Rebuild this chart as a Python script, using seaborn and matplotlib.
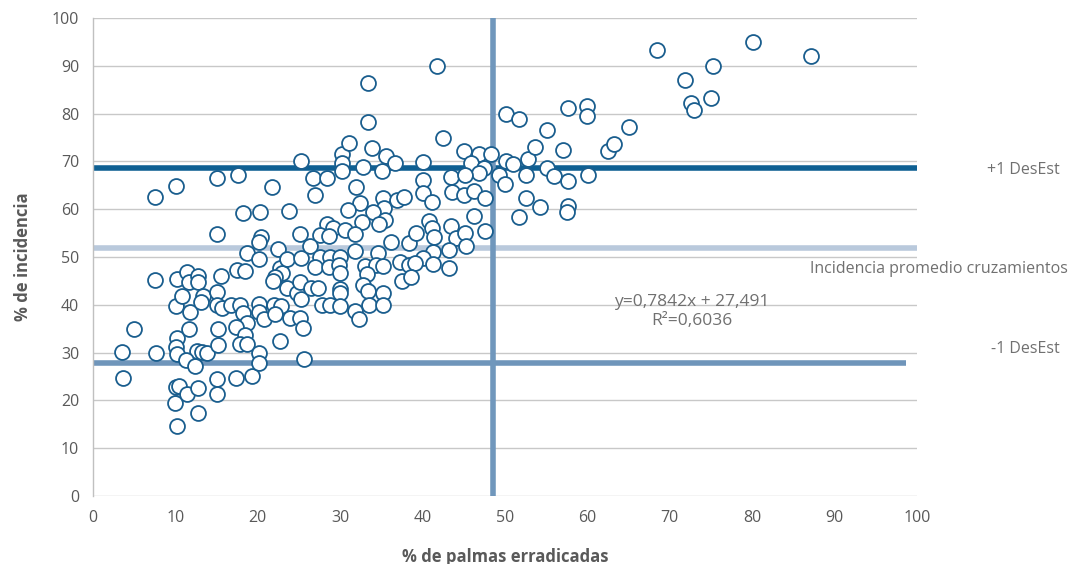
import matplotlib
matplotlib.use("Agg")
import matplotlib.pyplot as plt
import seaborn as sns
import pandas as pd

# % de palmas erradicadas
palmas = [
    3.5, 3.7, 5.0, 7.5, 7.5, 7.6, 10.1, 10.2, 10.1, 10.8, 10.2, 10.1, 10.2, 10.1, 10.4, 10.0, 10.2,
    11.4, 11.7, 12.7, 12.8, 11.8, 11.7, 11.4, 12.6, 13.2, 13.8, 11.3, 12.4, 12.8, 12.7, 13.4, 13.1,
    15.0, 15.1, 15.5, 15.1, 15.0, 15.7, 15.2, 15.2, 15.1, 15.1,
    16.8, 17.6, 17.5, 18.5, 17.9, 18.2, 18.7, 17.4, 18.4, 17.9, 18.7, 17.4, 19.3, 18.2, 18.7,
    20.3, 20.4, 20.1, 20.1, 20.1, 20.1, 20.7, 20.2, 20.2, 21.7, 22.5, 22.7, 22.9, 22.1, 21.8,
    22.0, 22.8, 22.1, 22.7, 23.8, 23.5, 23.5, 24.7, 23.9, 25.1, 25.1, 25.2, 25.1, 25.3, 25.5,
    25.6, 25.3,
    26.7, 28.4, 26.9, 28.4, 29.1, 27.6, 28.6, 26.3, 27.5, 28.8, 30.0, 27.0, 28.6, 29.8, 30.0,
    26.5, 27.3, 30.0, 30.0, 27.8, 28.8, 30.0,
    30.2, 30.2, 30.2, 31.1, 33.4, 33.4, 33.9, 35.6, 36.7, 32.8, 35.1, 31.9, 32.4, 31.0, 35.2,
    35.3, 34.0, 35.4, 34.7, 32.6, 30.6, 31.8, 31.8, 34.6, 36.2, 33.0, 34.3, 35.2, 33.2, 32.8,
    33.4, 35.2, 33.5, 35.2, 31.8, 32.3,
    40.0, 36.9, 37.7, 40.1, 40.1, 41.1, 41.7, 42.5, 38.3, 39.2, 40.8, 41.2, 41.4, 41.3, 40.1,
    41.3, 37.3, 38.4, 39.1, 37.5, 38.6,
    43.5, 43.6, 45.0, 46.2, 47.6, 45.0, 46.8, 48.3, 45.9, 47.4, 46.8, 45.2, 43.5, 44.1, 45.2,
    45.3, 46.2, 47.6, 43.2, 43.2,
    50.1, 51.0, 49.3, 50.0, 50.1, 51.7, 52.8, 53.6, 55.1, 57.0, 55.1, 52.5, 56.0, 57.7, 60.1,
    52.5, 54.2, 57.6, 57.5, 51.7, 57.7, 60.0, 60.0, 62.5, 63.2, 65.1, 68.4, 71.9, 72.6, 72.9,
    75.0, 75.2, 80.1, 87.1,
]

# % de incidencia
incidencia = [
    30.2, 24.6, 34.9, 62.6, 45.1, 29.9, 64.8, 45.4, 39.8, 41.9, 33.1, 31.2, 29.8, 22.7, 23.0, 19.4, 14.6,
    46.8, 44.8, 46.1, 44.8, 38.4, 35.0, 21.3, 30.4, 30.1, 29.9, 28.5, 27.3, 22.5, 17.3, 41.8, 40.5,
    66.5, 54.9, 46.0, 42.6, 40.0, 39.4, 34.9, 31.5, 24.5, 21.4,
    39.9, 67.2, 47.3, 47.1, 40.0, 38.2, 36.1, 35.3, 33.6, 31.9, 31.9, 24.7, 25.2, 59.3, 50.8,
    59.4, 54.1, 53.2, 49.6, 40.2, 38.4, 37.0, 30.0, 27.9, 64.6, 51.7, 47.6, 46.7, 45.9, 44.9,
    40.0, 39.8, 38.0, 32.4, 59.6, 49.6, 43.6, 42.4, 37.2, 37.2, 54.8, 49.7, 44.8, 41.2, 35.1,
    28.6, 70.1,
    66.5, 66.5, 63.0, 56.9, 56.0, 54.7, 54.4, 52.4, 49.9, 50.0, 49.9, 48.0, 48.0, 48.3, 46.6,
    43.5, 43.5, 43.3, 42.4, 39.9, 39.9, 39.8,
    71.5, 69.7, 68.0, 73.8, 86.5, 78.2, 72.8, 71.2, 69.6, 68.8, 67.9, 64.7, 61.4, 59.8, 62.4,
    60.3, 59.4, 57.8, 56.8, 57.4, 55.6, 54.8, 51.3, 50.8, 53.2, 48.1, 48.3, 48.2, 46.4, 44.1,
    42.9, 42.4, 40.0, 40.0, 38.6, 37.0,
    69.8, 61.9, 62.6, 66.2, 63.3, 61.5, 90.0, 75.0, 53.0, 55.1, 57.6, 56.0, 54.2, 51.1, 49.7,
    48.5, 49.0, 48.3, 48.7, 45.0, 45.9,
    66.7, 63.7, 63.0, 63.9, 62.4, 72.2, 71.5, 71.5, 69.6, 68.6, 67.5, 67.2, 56.5, 53.9, 55.0,
    52.2, 58.6, 55.5, 51.5, 47.8,
    70.0, 69.5, 67.2, 65.3, 79.9, 78.9, 70.5, 73.1, 76.6, 72.3, 68.6, 67.2, 66.9, 65.9, 67.2,
    62.3, 60.4, 60.7, 59.5, 58.4, 81.2, 81.6, 79.6, 72.1, 73.6, 77.3, 93.3, 87.1, 82.2, 80.8,
    83.2, 89.9, 95.0, 92.0,
]

x_ticks = [0, 10, 20, 30, 40, 50, 60, 70, 80, 90, 100]
y_ticks = [0, 10, 20, 30, 40, 50, 60, 70, 80, 90, 100]
promedio = 51.8
desest_sup = 68.7
desest_inf = 27.9
palmas_ref = 48.5
ecuacion = "y=0,7842x + 27,491"
r2 = "R²=0,6036"

sns.set_theme(style="white")
plt.rcParams['font.family'] = ['Open Sans', 'DejaVu Sans']

df = pd.DataFrame({"palmas": palmas, "incidencia": incidencia})

fig = plt.figure(figsize=(10.7, 5.64), dpi=100)
ax = fig.add_axes([93/1070, 1 - 496/564, (917-93)/1070, (496-18)/564])

grey_text = "#595959"
note_text = "#707070"
for yv in y_ticks:
    ax.axhline(yv, color="#c8c8c8", lw=1.0, zorder=0)

ax.plot([0, 100], [desest_sup, desest_sup], color="#0e5f92", lw=4, zorder=1, solid_capstyle="butt")
ax.plot([0, 100], [promedio, promedio], color="#b9c9dc", lw=4, zorder=1, solid_capstyle="butt")
ax.plot([0, 98.7], [desest_inf, desest_inf], color="#6f95ba", lw=4, zorder=1, solid_capstyle="butt")
ax.plot([palmas_ref, palmas_ref], [0, 100], color="#7097bc", lw=4, zorder=1, solid_capstyle="butt")

sns.scatterplot(data=df, x="palmas", y="incidencia", ax=ax, s=115, color="white",
                edgecolor="#1a5e8e", linewidth=1.3, zorder=3, legend=False)

ax.set_xlim(0, 100)
ax.set_ylim(0, 100)
ax.set_xticks(x_ticks)
ax.set_yticks(y_ticks)
ax.tick_params(axis="both", labelsize=11.5, colors=grey_text, length=0)
ax.tick_params(axis="x", pad=10)
ax.tick_params(axis="y", pad=10)
for sp in ["top", "right", "bottom"]:
    ax.spines[sp].set_visible(False)
ax.spines["left"].set_color("#c0c0c0")
ax.spines["left"].set_linewidth(1.0)
ax.grid(False)

ax.set_xlabel("% de palmas erradicadas", fontsize=12, fontweight="bold", color=grey_text, labelpad=16)
ax.set_ylabel("% de incidencia", fontsize=12, fontweight="bold", color=grey_text, labelpad=14)

ytr = ax.get_yaxis_transform()
ax.text(1.1735, 68.2, "+1 DesEst", transform=ytr, ha="right", va="center",
        fontsize=11.5, color=note_text, clip_on=False)
ax.text(1.1825, 47.4, "Incidencia promedio cruzamientos", transform=ytr, ha="right",
        va="center", fontsize=11.5, color=note_text, clip_on=False)
ax.text(1.1735, 30.7, "-1 DesEst", transform=ytr, ha="right", va="center",
        fontsize=11.5, color=note_text, clip_on=False)
ax.text(72.7, 40.6, ecuacion, ha="center", va="center", fontsize=12.5, color=note_text)
ax.text(72.7, 36.6, r2, ha="center", va="center", fontsize=12.5, color=note_text)

fig.savefig("out.png", dpi=100)
